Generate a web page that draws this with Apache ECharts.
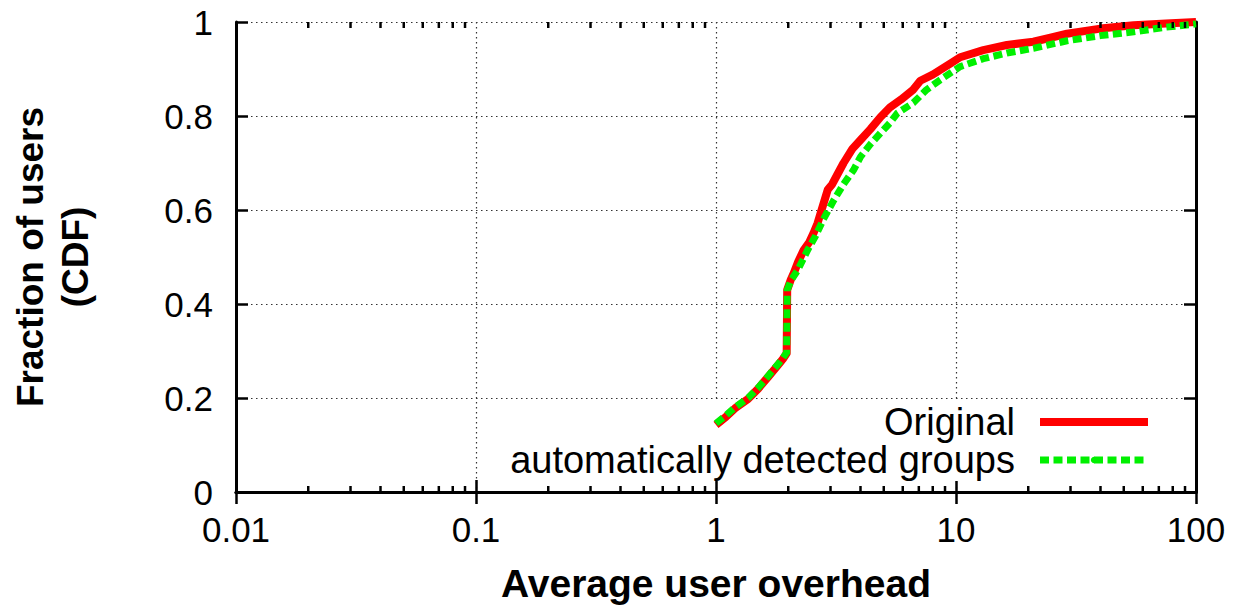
<!DOCTYPE html>
<html>
<head>
<meta charset="utf-8">
<script src="https://cdn.jsdelivr.net/npm/echarts@6/dist/echarts.min.js"></script>
<style>
  html, body { margin: 0; padding: 0; background: #fff; }
  #chart { width: 1238px; height: 609px; }
</style>
</head>
<body>
<div id="chart"></div>
<script>
// CDF of average user overhead: [overhead, fraction of users]
const seriesNames = ['Original', 'automatically detected groups'];

const originalCdf = [
  [1, 0.143], [1.1, 0.16], [1.2, 0.178], [1.36, 0.198], [1.5, 0.22], [1.65, 0.245],
  [1.8, 0.268], [1.9, 0.283], [1.97, 0.295], [1.98, 0.43], [2.05, 0.452], [2.11, 0.466],
  [2.2, 0.49], [2.32, 0.515], [2.45, 0.532], [2.55, 0.551], [2.65, 0.572], [2.73, 0.594],
  [2.85, 0.625], [2.92, 0.643], [3.05, 0.655], [3.2, 0.675], [3.4, 0.7], [3.7, 0.73],
  [4.0, 0.749], [4.4, 0.772], [4.85, 0.798], [5.3, 0.818], [5.9, 0.835], [6.6, 0.855],
  [7.1, 0.875], [8.0, 0.888], [8.6, 0.898], [9.5, 0.912], [10.4, 0.925], [13, 0.94],
  [16.3, 0.951], [21, 0.958], [25, 0.967], [29, 0.975], [40, 0.986], [55, 0.993],
  [75, 0.997], [100, 1.0]
];

const detectedCdf = [
  [1, 0.146], [1.1, 0.163], [1.2, 0.18], [1.36, 0.2], [1.5, 0.222], [1.65, 0.247],
  [1.8, 0.27], [1.9, 0.285], [1.97, 0.297], [1.98, 0.43], [2.05, 0.45], [2.19, 0.472],
  [2.41, 0.515], [2.6, 0.545], [2.8, 0.58], [3.09, 0.62], [3.4, 0.655], [3.74, 0.685],
  [4.0, 0.713], [4.4, 0.74], [4.85, 0.764], [5.3, 0.785], [5.7, 0.806], [6.64, 0.828],
  [7.5, 0.855], [8.6, 0.877], [10.4, 0.905], [13, 0.922], [16.3, 0.934], [21, 0.944],
  [29, 0.96], [40, 0.971], [55, 0.979], [75, 0.989], [100, 0.996]
];

// minor tick positions on the log axis (2..9 in each decade)
const minorTickValues = [];
[0.01, 0.1, 1, 10].forEach(function (decade) {
  for (let m = 2; m <= 9; m++) minorTickValues.push(+(decade * m).toPrecision(3));
});

const FONT = '"Liberation Sans", Arial, Helvetica, sans-serif';

const chart = echarts.init(document.getElementById('chart'), null, { renderer: 'svg' });

const axisLine = { show: true, lineStyle: { color: '#000', width: 3 } };
const majorTick = { show: true, inside: true, length: 12, lineStyle: { color: '#000', width: 2.5 } };
const gridDots = { show: true, lineStyle: { color: '#333', width: 1.2, type: [1.5, 3.5] } };

chart.setOption({
  animation: false,
  backgroundColor: '#fff',
  grid: { left: 233, right: 42, top: 22, bottom: 117, containLabel: false },
  xAxis: [
    {
      type: 'log', logBase: 10, min: 0.01, max: 100, position: 'bottom',
      axisLine: axisLine, axisTick: majorTick, splitLine: gridDots,
      axisLabel: { fontFamily: FONT, fontSize: 35, color: '#000', margin: 20 },
      name: 'Average user overhead', nameLocation: 'middle', nameGap: 72,
      nameTextStyle: { fontFamily: FONT, fontSize: 39, fontWeight: 'bold', color: '#000' }
    },
    {
      type: 'log', logBase: 10, min: 0.01, max: 100, position: 'top',
      axisLine: axisLine, axisTick: majorTick, axisLabel: { show: false }, splitLine: { show: false }
    }
  ],
  yAxis: [
    {
      type: 'value', min: 0, max: 1, interval: 0.2, position: 'left',
      axisLine: axisLine, axisTick: majorTick, splitLine: gridDots,
      axisLabel: { fontFamily: FONT, fontSize: 35, color: '#000', margin: 23 },
      name: 'Fraction of users\n(CDF)', nameLocation: 'middle', nameRotate: 90, nameGap: 138,
      nameTextStyle: { fontFamily: FONT, fontSize: 37, fontWeight: 'bold', color: '#000', lineHeight: 45 }
    },
    {
      type: 'value', min: 0, max: 1, interval: 0.2, position: 'right',
      axisLine: axisLine, axisTick: majorTick, axisLabel: { show: false }, splitLine: { show: false }
    }
  ],
  legend: {
    z: 1,
    orient: 'vertical',
    right: 74, top: 400,
    align: 'right',
    backgroundColor: '#fff',
    padding: [3, 12, 2, 8],
    itemWidth: 108, itemHeight: 8, itemGap: 0,
    textStyle: { fontFamily: FONT, fontSize: 38, color: '#000', padding: [0, 20, 0, 0] },
    data: [
      { name: seriesNames[0], lineStyle: { width: 8 } },
      { name: seriesNames[1], lineStyle: { width: 7, type: [9, 4.5] } }
    ]
  },
  series: [
    {
      name: seriesNames[0], type: 'line', data: originalCdf, z: 3,
      symbol: 'none', showSymbol: false,
      itemStyle: { color: '#ff0000' },
      lineStyle: { color: '#ff0000', width: 8, cap: 'butt', join: 'round' }
    },
    {
      name: seriesNames[1], type: 'line', data: detectedCdf, z: 4,
      symbol: 'none', showSymbol: false,
      itemStyle: { color: '#00f000' },
      lineStyle: { color: '#00f000', width: 7, type: [9, 4.5], cap: 'butt', join: 'miter' }
    },
    {
      // minor log ticks on bottom and top border, placed through the axis scale
      type: 'custom', z: 5, silent: true, clip: false,
      data: minorTickValues.map(function (v) { return [v]; }),
      renderItem: function (params, api) {
        const v = api.value(0);
        const b = api.coord([v, 0]);
        const t = api.coord([v, 1]);
        const st = { stroke: '#000', lineWidth: 2.5 };
        return {
          type: 'group',
          children: [
            { type: 'line', shape: { x1: b[0], y1: b[1], x2: b[0], y2: b[1] - 6 }, style: st },
            { type: 'line', shape: { x1: t[0], y1: t[1], x2: t[0], y2: t[1] + 6 }, style: st }
          ]
        };
      }
    }
  ]
});
</script>
</body>
</html>
